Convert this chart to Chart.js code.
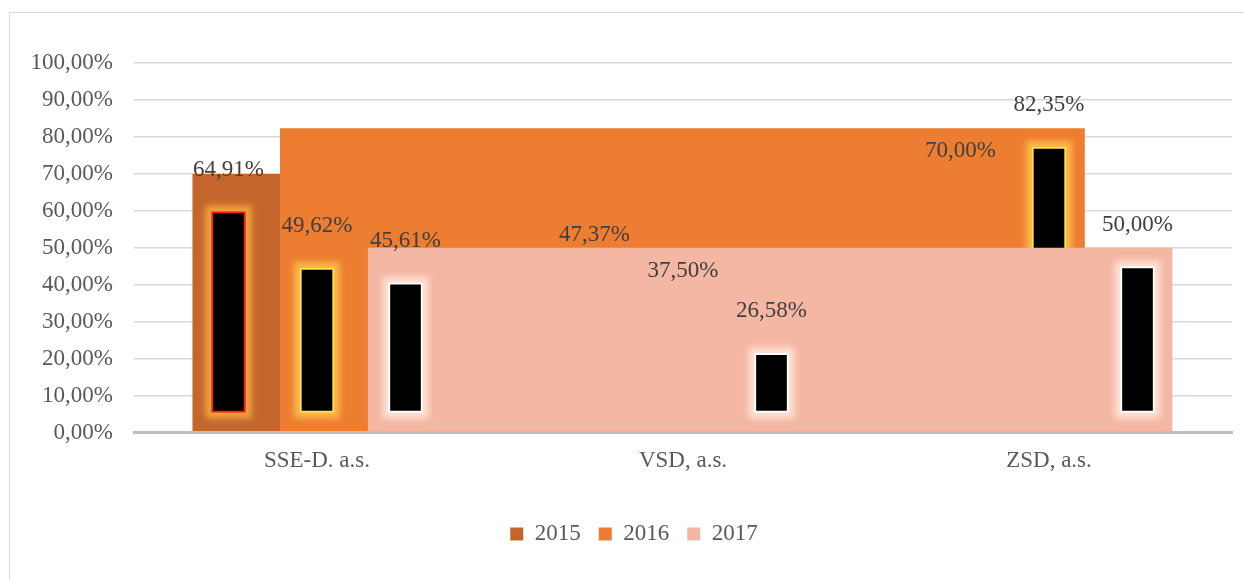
<!DOCTYPE html>
<html lang="sk">
<head>
  <meta charset="UTF-8" />
  <title>Podiel – SSE-D, VSD, ZSD</title>
  <script src="https://cdn.jsdelivr.net/npm/chart.js"></script>
  <style>
    html, body { margin: 0; padding: 0; background: #fff; overflow: hidden; }
    /* chart frame, only left and top edge are inside the picture */
    #frame {
      position: absolute; left: 9px; top: 12px;
      width: 1300px; height: 700px;
      border: 1px solid #D9D9D9;
    }
    #wrap { position: absolute; left: 0; top: 0; width: 1244px; height: 580px; }
  </style>
</head>
<body>
  <div id="frame"></div>
  <div id="wrap"><canvas id="chart"></canvas></div>

  <script>
    // Data
    const categories = ['SSE-D. a.s.', 'VSD, a.s.', 'ZSD, a.s.'];
    const years = ['2015', '2016', '2017'];
    const values2015 = [64.91, 47.37, 70.00];
    const values2016 = [49.62, 37.50, 82.35];
    const values2017 = [45.61, 26.58, 50.00];
    const yMax = 100;
    const yStep = 10;

    const series = [values2015, values2016, values2017];

    // Styles
    const FONT = '"Liberation Serif", "Times New Roman", serif';
    const rectColors = ['#C4662B', '#ED7D31', '#F4B7A3'];
    const edgeColors = ['#FF1A1A', '#FFE34A', '#FFFFFF'];
    const glowColors = ['rgba(255,185,70,0.75)', 'rgba(255,205,80,0.75)', 'rgba(255,232,220,0.85)'];

    // geometry of the broken render (in category units)
    const BAR_SLOT = 0.2418;   // spacing of the black bars
    const RECT_SLOT = 0.2446;  // spacing of the coloured blocks
    const INSET_LOW = 5.5;     // black bars are drawn inset
    const INSET_TOP = 5.1;

    const pct = v => v.toFixed(2).replace('.', ',') + '%';

    const datasets = [];
    series.forEach((vals, k) => {
      const top = Math.max(...vals);
      // big coloured block of the series
      datasets.push({
        type: 'line',
        label: years[k],
        xAxisID: 'xr',
        data: [
          { x: (k - 1.5) * RECT_SLOT, y: top },
          { x: categories.length - 1 + (k - 0.5) * RECT_SLOT, y: top }
        ],
        backgroundColor: rectColors[k],
        borderColor: 'rgba(0,0,0,0)',
        borderWidth: 0,
        pointRadius: 0,
        tension: 0,
        fill: 'origin',
        order: 6 - 2 * k
      });
      // black bars
      datasets.push({
        type: 'bar',
        label: 'bar ' + years[k],
        xAxisID: 'xb',
        seriesIdx: k,
        glow: glowColors[k],
        data: vals.map((v, i) => ({ x: i + (k - 1) * BAR_SLOT, y: [INSET_LOW, v - INSET_TOP] })),
        backgroundColor: '#000000',
        borderColor: edgeColors[k],
        borderWidth: 2,
        borderSkipped: false,
        barThickness: 34,
        grouped: false,
        order: 5 - 2 * k
      });
    });

    // soft halo round the black bars, taken from the bar elements
    const glowPlugin = {
      id: 'glow',
      beforeDatasetDraw(chart, args) {
        const ds = chart.data.datasets[args.index];
        if (!ds.glow) return;
        const ctx = chart.ctx;
        ctx.save();
        ctx.filter = 'blur(3px)';
        ctx.fillStyle = ds.glow;
        args.meta.data.forEach(el => {
          const { x, y, base, width } = el.getProps(['x', 'y', 'base', 'width'], true);
          const top = Math.min(y, base), h = Math.abs(base - y);
          ctx.fillRect(x - width / 2 - 6, top - 6, width + 12, h + 12);
        });
        ctx.restore();
      }
    };

    // value labels above the bars
    const valueLabels = {
      id: 'valueLabels',
      afterDatasetsDraw(chart) {
        const ctx = chart.ctx;
        const yScale = chart.scales.y;
        ctx.save();
        ctx.font = '23px ' + FONT;
        ctx.fillStyle = '#404040';
        ctx.textAlign = 'center';
        ctx.textBaseline = 'alphabetic';
        chart.data.datasets.forEach((ds, di) => {
          if (ds.seriesIdx === undefined) return;
          const vals = series[ds.seriesIdx];
          chart.getDatasetMeta(di).data.forEach((el, i) => {
            ctx.fillText(pct(vals[i]), el.x, yScale.getPixelForValue(vals[i]) - 17);
          });
        });
        ctx.restore();
      }
    };

    // legend sits a bit right of the canvas centre
    const LEGEND_SHIFT = 18;
    const legendShift = {
      id: 'legendShift',
      afterLayout(chart) {
        chart.legend.left += LEGEND_SHIFT;
        chart.legend.right += LEGEND_SHIFT;
      }
    };

    new Chart(document.getElementById('chart'), {
      type: 'bar',
      data: { labels: categories, datasets: datasets },
      plugins: [glowPlugin, valueLabels, legendShift],
      options: {
        responsive: true,
        maintainAspectRatio: false,
        animation: false,
        events: [],
        layout: { padding: { top: 63, right: 12, bottom: 24.5, left: 0 } },
        plugins: {
          tooltip: { enabled: false },
          legend: {
            position: 'bottom',
            labels: {
              boxWidth: 13,
              boxHeight: 13,
              padding: 18,
              color: '#595959',
              font: { family: FONT, size: 23 },
              filter: item => years.includes(item.text),
              sort: (a, b) => a.datasetIndex - b.datasetIndex
            }
          }
        },
        scales: {
          x: {
            type: 'category',
            offset: true,
            grid: { display: false, drawTicks: false },
            border: { display: true, color: '#BFBFBF', width: 3, z: 1 },
            ticks: { padding: 14, color: '#595959', font: { family: FONT, size: 23 } },
            afterFit: s => { s.height = 71.8; }
          },
          xb: { type: 'linear', display: false, offset: false, min: -0.5, max: categories.length - 0.5 },
          xr: { type: 'linear', display: false, offset: false, min: -0.5294, max: 2.5325 },
          y: {
            min: 0,
            max: yMax,
            ticks: {
              stepSize: yStep,
              padding: 21,
              color: '#595959',
              font: { family: FONT, size: 23 },
              callback: v => pct(v)
            },
            grid: { color: '#D9D9D9', lineWidth: 1.5, drawTicks: false },
            border: { display: false },
            afterFit: s => { s.width = 134; }
          }
        }
      }
    });
  </script>
</body>
</html>
